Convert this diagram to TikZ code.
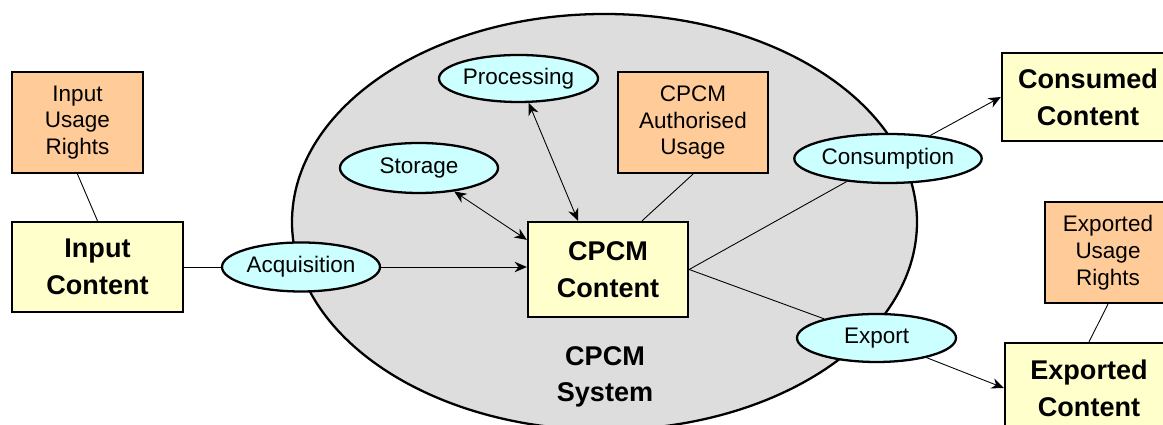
\documentclass[tikz,border=0pt]{standalone}
\usepackage{fontspec}
\setmainfont{Liberation Sans}
\usetikzlibrary{arrows.meta,shapes.geometric}
\tikzset {>={Stealth[length=7pt,width=6pt]}}
\definecolor{rightsfill}{HTML}{FFCC99}
\definecolor{contentfill}{HTML}{FFFFCC}
\definecolor{actfill}{HTML}{CCFFFF}
\definecolor{sysfill}{HTML}{DDDDDD}
\tikzset{
  rights/.style={draw,line width=1.3pt,fill=rightsfill,align=center,inner sep=0pt,
    font=\fontsize{12.8}{15.2}\selectfont},
  content/.style={draw,line width=1.3pt,fill=contentfill,align=center,inner sep=0pt,
    font=\fontsize{15.4}{20.9}\selectfont\bfseries},
  activity/.style={ellipse,draw,line width=1.3pt,fill=actfill,inner sep=0pt,
    font=\fontsize{12.8}{15.2}\selectfont},
  link/.style={line width=0.5pt}
}

\begin{document}
\begin{tikzpicture}
\useasboundingbox (0,0) rectangle (23.26,8.5);
\clip (0,0) rectangle (23.26,8.5);
% the system
\draw[line width=1.3pt,fill=sysfill] (12.09,4.06) ellipse (6.25 and 4.16);
\node[align=center,font=\fontsize{15.4}{20.9}\selectfont\bfseries] (system) at (12.1,0.96) {CPCM\\System};
% boxes
\node[rights,minimum width=2.62cm,minimum height=2.02cm] (inrights) at (1.55,6.05) {Input\\Usage\\Rights};
\node[content,minimum width=3.42cm,minimum height=1.8cm] (input) at (1.95,3.16) {Input\\Content};
\node[content,minimum width=3.2cm,minimum height=1.9cm] (cpcm) at (12.16,3.11) {CPCM\\Content};
\node[rights,minimum width=3.0cm,minimum height=2.02cm] (authorised) at (13.86,6.05) {CPCM\\Authorised\\Usage};
\node[content,minimum width=3.44cm,minimum height=1.76cm] (consumed) at (21.76,6.56) {Consumed\\Content};
\node[rights,minimum width=2.52cm,minimum height=2.02cm] (exrights) at (22.16,3.45) {Exported\\Usage\\Rights};
\node[content,minimum width=3.36cm,minimum height=1.8cm] (exported) at (21.78,0.74) {Exported\\Content};
% activities
\node[activity,minimum width=3.16cm,minimum height=0.98cm] (acquisition) at (6.02,3.16) {Acquisition};
\node[activity,minimum width=3.18cm,minimum height=0.94cm] (processing) at (10.37,6.93) {Processing};
\node[activity,minimum width=3.16cm,minimum height=1.0cm] (storage) at (8.38,5.14) {Storage};
\node[activity,minimum width=3.56cm,minimum height=0.98cm] (consumption) at (17.76,5.33) {Consumption};
\node[activity,minimum width=3.18cm,minimum height=0.96cm] (export) at (17.53,1.74) {Export};
% connectors
\draw[link] (inrights.south) -- (input.north);
\draw[link] (input) -- (acquisition);
\draw[link,->] (acquisition) -- (acquisition -| cpcm.west);
\draw[link,<->] (processing) -- ([xshift=-0.6cm]cpcm.north);
\draw[link,<->] (storage) -- ([yshift=-0.38cm]cpcm.north west);
\draw[link] (authorised.south) -- ([xshift=0.68cm]cpcm.north);
\draw[link] (cpcm.east) -- (consumption);
\draw[link] (cpcm.east) -- (export);
\draw[link,->] (consumption) -- (consumed.west);
\draw[link,->] (export) -- (exported.west);
\draw[link] (exrights.south) -- (exported.north);
\end{tikzpicture}
\end{document}
